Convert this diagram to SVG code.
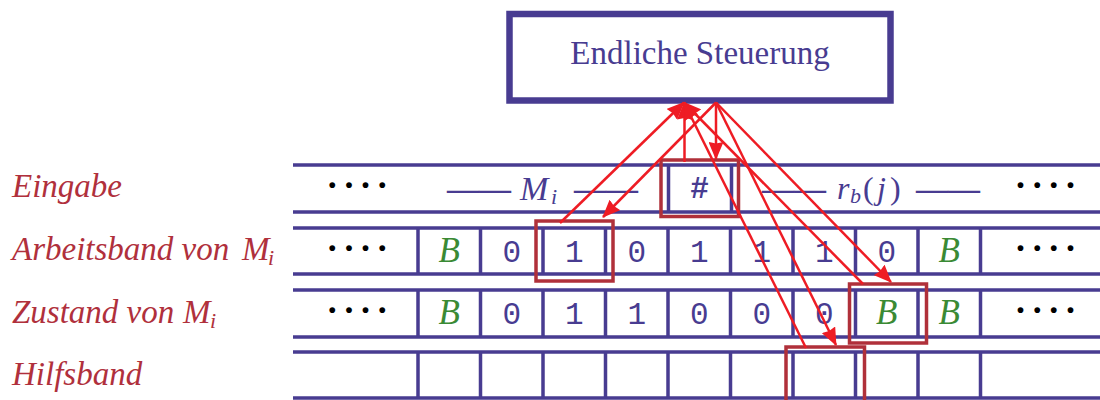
<svg xmlns="http://www.w3.org/2000/svg" width="1100" height="400" viewBox="0 0 1100 400">
<defs>
<style>
.tape{stroke:#483c91;stroke-width:3.5;fill:none}
.hl{stroke:#b0303a;stroke-width:3.5;fill:none}
.arr{stroke:#ee1c24;stroke-width:2.5;fill:none;marker-end:url(#ah)}
.lbl{font-family:"Liberation Serif",serif;font-style:italic;font-size:33px;fill:#b0303c}
.mi{font-family:"Liberation Serif",serif;font-style:italic;fill:#483c91}
.dig{font-family:"Liberation Mono",monospace;font-size:31px;fill:#483c91;text-anchor:middle}
.blank{font-family:"Liberation Serif",serif;font-style:italic;font-size:35px;fill:#3a8a34;text-anchor:middle}
.dots{font-family:"Liberation Serif",serif;font-weight:bold;font-size:36px;fill:#000}
.dash{font-family:"Liberation Serif",serif;font-weight:bold;font-size:32px;fill:#483c91}
</style>
<marker id="ah" markerUnits="userSpaceOnUse" viewBox="0 0 18 15" markerWidth="18" markerHeight="15" refX="17" refY="7.5" orient="auto"><path d="M0,0 L18,7.5 L0,15 L1.5,7.5 z" fill="#ee1c24"/></marker>
</defs>
<rect width="1100" height="400" fill="#fff"/>

<g id="node-control">
<rect x="509.5" y="14" width="381" height="86.5" fill="#fff" stroke="#483c91" stroke-width="6.5"/>
<text x="700" y="64" text-anchor="middle" font-family="Liberation Serif, serif" font-size="33" fill="#483c91">Endliche Steuerung</text>
</g>

<g id="labels">
<text class="lbl" x="12" y="197">Eingabe</text>
<text class="lbl" x="12" y="260">Arbeitsband von <tspan x="242">M</tspan><tspan x="268" dy="5" font-size="22">i</tspan></text>
<text class="lbl" x="12" y="323">Zustand von <tspan x="183">M</tspan><tspan x="210" dy="5" font-size="22">i</tspan></text>
<text class="lbl" x="12" y="385">Hilfsband</text>
</g>

<g id="tape-eingabe">
<path class="tape" d="M293,165H1100M293,212H1100M668.5,165V212M731.5,165V212"/>
<text class="dots" x="326.2 342.9 359.5 376.2" y="197.3">····</text>
<text class="dash" x="447" y="198.5">——</text>
<text class="mi" x="520" y="200" font-size="34">M<tspan x="551" dy="4" font-size="22">i</tspan></text>
<text class="dash" x="574" y="198.5">——</text>
<text class="dig" x="699.5" y="198" font-size="28" font-weight="bold">#</text>
<text class="dash" x="762" y="198.5">——</text>
<text class="mi" y="199" font-size="32"><tspan x="837">r</tspan><tspan x="850" dy="4" font-size="22">b</tspan><tspan x="863" dy="-4" font-style="normal">(</tspan><tspan x="877">j</tspan><tspan x="890" font-style="normal">)</tspan></text>
<text class="dash" x="916" y="198.5">——</text>
<text class="dots" x="1014.5 1031.2 1047.8 1064.5" y="197.3">····</text>
</g>

<g id="tape-arbeitsband">
<path class="tape" d="M293,228H1100M293,274H1100M418,228V274M480.5,228V274M543,228V274M605.5,228V274M668,228V274M730.5,228V274M793,228V274M855.5,228V274M918,228V274M980.5,228V274"/>
<text class="dots" x="326.2 342.9 359.5 376.2" y="260">····</text>
<text class="blank" x="449.25" y="262">B</text>
<text class="dig" x="511.75" y="262">0</text>
<text class="dig" x="574.25" y="262">1</text>
<text class="dig" x="636.75" y="262">0</text>
<text class="dig" x="699.25" y="262">1</text>
<text class="dig" x="761.75" y="262">1</text>
<text class="dig" x="824.25" y="262">1</text>
<text class="dig" x="886.75" y="262">0</text>
<text class="blank" x="949.25" y="262">B</text>
<text class="dots" x="1014.5 1031.2 1047.8 1064.5" y="260">····</text>
</g>

<g id="tape-zustand">
<path class="tape" d="M293,290H1100M293,337H1100M418,290V337M480.5,290V337M543,290V337M605.5,290V337M668,290V337M730.5,290V337M793,290V337M855.5,290V337M918,290V337M980.5,290V337"/>
<text class="dots" x="326.2 342.9 359.5 376.2" y="322.3">····</text>
<text class="blank" x="449.25" y="324">B</text>
<text class="dig" x="511.75" y="324">0</text>
<text class="dig" x="574.25" y="324">1</text>
<text class="dig" x="636.75" y="324">1</text>
<text class="dig" x="699.25" y="324">0</text>
<text class="dig" x="761.75" y="324">0</text>
<text class="dig" x="824.25" y="324">0</text>
<text class="blank" x="886.75" y="324">B</text>
<text class="blank" x="949.25" y="324">B</text>
<text class="dots" x="1014.5 1031.2 1047.8 1064.5" y="322.3">····</text>
</g>

<g id="tape-hilfsband">
<path class="tape" d="M293,352H1100M293,398H1100M418,352V398M480.5,352V398M543,352V398M605.5,352V398M668,352V398M730.5,352V398M793,352V398M855.5,352V398M918,352V398M980.5,352V398"/>
</g>

<g id="heads">
<rect class="hl" x="661" y="160" width="77.5" height="56.5"/>
<rect class="hl" x="536" y="221" width="77" height="60"/>
<rect class="hl" x="849.5" y="284" width="77" height="59"/>
<rect class="hl" x="786" y="347" width="78.5" height="60"/>
</g>

<g id="connectors">
<line class="arr" x1="560" y1="223" x2="684" y2="102.5"/>
<line class="arr" x1="684.5" y1="162" x2="684.5" y2="102.5"/>
<line class="arr" x1="863" y1="284" x2="684" y2="102.5"/>
<line class="arr" x1="806" y1="348" x2="684" y2="102.5"/>
<line class="arr" x1="716" y1="102.5" x2="716" y2="159"/>
<line class="arr" x1="716" y1="102.5" x2="603" y2="217"/>
<line class="arr" x1="716" y1="102.5" x2="891" y2="282"/>
<line class="arr" x1="716" y1="102.5" x2="836" y2="345"/>
</g>
</svg>
